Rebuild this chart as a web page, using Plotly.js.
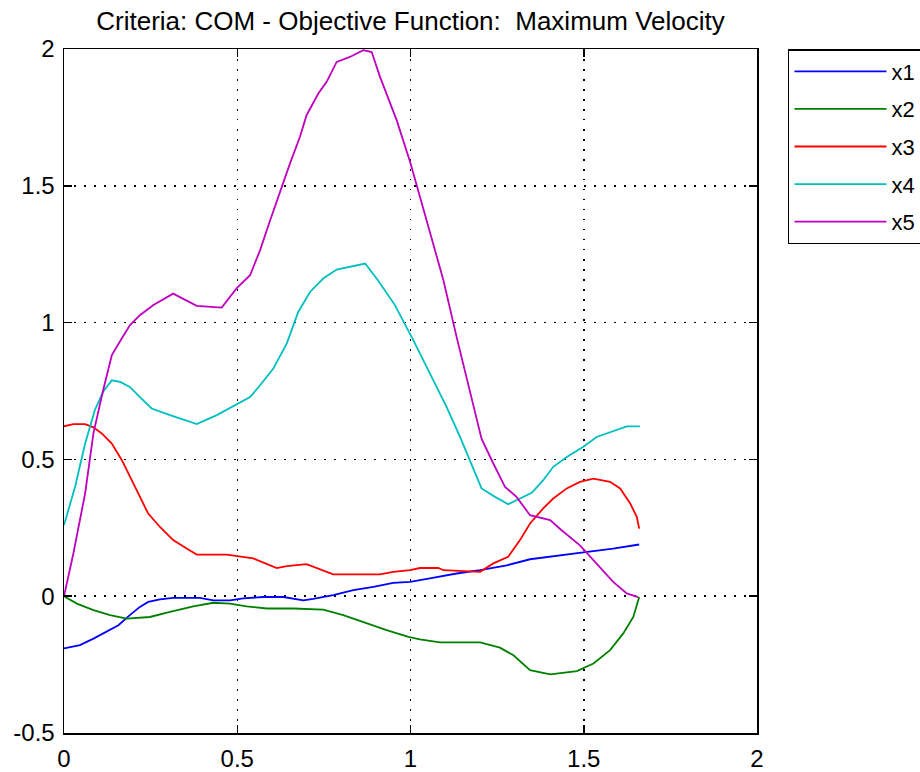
<!DOCTYPE html>
<html>
<head>
<meta charset="utf-8">
<script src="https://cdn.plot.ly/plotly-3.0.1.min.js"></script>
<style>
  html, body { margin: 0; padding: 0; background: #fff; }
  #chart { width: 920px; height: 772px; }
</style>
</head>
<body>
<div id="chart"></div>
<script>
// ---- data ----
const seriesNames = ["x1", "x2", "x3", "x4", "x5"];

const t1 = [0, 0.046, 0.085, 0.123, 0.157, 0.190, 0.219, 0.243, 0.277, 0.315, 0.392, 0.431, 0.479, 0.517, 0.575, 0.633, 0.691, 0.719, 0.777, 0.835, 0.893, 0.950, 0.999, 1.056, 1.133, 1.201, 1.278, 1.345, 1.412, 1.499, 1.585, 1.660];
const x1 = [-0.191, -0.179, -0.155, -0.130, -0.106, -0.069, -0.039, -0.021, -0.012, -0.006, -0.006, -0.015, -0.015, -0.008, -0.003, -0.003, -0.015, -0.010, 0.004, 0.022, 0.034, 0.049, 0.052, 0.065, 0.083, 0.095, 0.113, 0.135, 0.147, 0.160, 0.174, 0.189];

const t2 = [0, 0.037, 0.085, 0.133, 0.181, 0.248, 0.306, 0.373, 0.431, 0.479, 0.527, 0.585, 0.662, 0.748, 0.806, 0.874, 0.931, 0.994, 1.027, 1.085, 1.201, 1.258, 1.297, 1.345, 1.403, 1.480, 1.528, 1.576, 1.614, 1.643, 1.660];
const x2 = [0, -0.027, -0.051, -0.069, -0.082, -0.076, -0.057, -0.037, -0.024, -0.027, -0.037, -0.045, -0.045, -0.049, -0.069, -0.100, -0.124, -0.149, -0.158, -0.169, -0.169, -0.188, -0.216, -0.270, -0.286, -0.274, -0.246, -0.197, -0.136, -0.076, -0.003];

const t3 = [0, 0.027, 0.061, 0.085, 0.109, 0.138, 0.167, 0.195, 0.219, 0.243, 0.277, 0.315, 0.354, 0.383, 0.470, 0.508, 0.546, 0.614, 0.643, 0.700, 0.777, 0.912, 0.950, 0.999, 1.027, 1.080, 1.095, 1.201, 1.239, 1.282, 1.316, 1.345, 1.383, 1.412, 1.451, 1.489, 1.528, 1.576, 1.605, 1.634, 1.653, 1.660];
const x3 = [0.621, 0.629, 0.629, 0.617, 0.595, 0.558, 0.497, 0.424, 0.363, 0.302, 0.253, 0.205, 0.174, 0.152, 0.152, 0.144, 0.138, 0.103, 0.110, 0.117, 0.080, 0.080, 0.089, 0.095, 0.103, 0.103, 0.095, 0.089, 0.120, 0.144, 0.205, 0.266, 0.321, 0.357, 0.394, 0.418, 0.430, 0.418, 0.394, 0.339, 0.290, 0.247];

const t4 = [0, 0.032, 0.061, 0.089, 0.113, 0.138, 0.162, 0.190, 0.219, 0.253, 0.306, 0.383, 0.441, 0.494, 0.537, 0.566, 0.604, 0.643, 0.676, 0.710, 0.748, 0.787, 0.825, 0.869, 0.906, 0.955, 1.008, 1.056, 1.104, 1.143, 1.172, 1.205, 1.244, 1.282, 1.316, 1.350, 1.383, 1.412, 1.451, 1.499, 1.537, 1.585, 1.624, 1.662];
const x4 = [0.260, 0.400, 0.558, 0.680, 0.747, 0.789, 0.783, 0.765, 0.728, 0.686, 0.662, 0.629, 0.662, 0.698, 0.728, 0.771, 0.832, 0.924, 1.039, 1.112, 1.161, 1.194, 1.204, 1.216, 1.155, 1.064, 0.936, 0.814, 0.692, 0.582, 0.491, 0.394, 0.363, 0.336, 0.357, 0.378, 0.424, 0.473, 0.509, 0.546, 0.582, 0.604, 0.621, 0.621];

const t5 = [0, 0.027, 0.061, 0.085, 0.113, 0.138, 0.167, 0.190, 0.219, 0.258, 0.315, 0.383, 0.455, 0.498, 0.537, 0.566, 0.595, 0.628, 0.652, 0.681, 0.700, 0.734, 0.758, 0.787, 0.825, 0.864, 0.888, 0.912, 0.960, 0.999, 1.047, 1.095, 1.133, 1.172, 1.205, 1.239, 1.273, 1.306, 1.345, 1.403, 1.436, 1.489, 1.537, 1.585, 1.624, 1.657];
const x5 = [0, 0.156, 0.376, 0.596, 0.753, 0.881, 0.943, 0.990, 1.027, 1.064, 1.106, 1.061, 1.055, 1.125, 1.173, 1.265, 1.374, 1.496, 1.581, 1.679, 1.758, 1.837, 1.880, 1.953, 1.971, 1.996, 1.989, 1.898, 1.740, 1.587, 1.374, 1.155, 0.948, 0.741, 0.576, 0.485, 0.399, 0.363, 0.296, 0.278, 0.241, 0.186, 0.120, 0.052, 0.010, -0.003];

const xTicks = [0, 0.5, 1, 1.5, 2];
const xTickLabels = ["0", "0.5", "1", "1.5", "2"];
const yTicks = [-0.5, 0, 0.5, 1, 1.5, 2];
const yTickLabels = ["-0.5", "0", "0.5", "1", "1.5", "2"];
const titleText = "Criteria: COM - Objective Function:  Maximum Velocity";

// ---- styling ----
const colors = ["#0000ff", "#008000", "#ff0000", "#00bfbf", "#bf00bf"];
const ts = [t1, t2, t3, t4, t5];
const ys = [x1, x2, x3, x4, x5];
const FONT = "Liberation Sans, Arial, sans-serif";

const traces = seriesNames.map((n, i) => ({
  type: "scatter",
  mode: "lines",
  name: n,
  x: ts[i],
  y: ys[i],
  line: { color: colors[i], width: 1.8 },
  legendgroup: n
}));

const axisCommon = {
  showline: true,
  linecolor: "#000",
  linewidth: 1.5,
  mirror: "ticks",
  ticks: "inside",
  ticklen: 8,
  tickwidth: 1.5,
  tickcolor: "#000",
  showgrid: true,
  gridcolor: "#000",
  gridwidth: 1.5,
  griddash: "1.5px,8.5px",
  zeroline: false,
  tickfont: { family: FONT, size: 24, color: "#000" },
  tickmode: "array"
};

const layout = {
  width: 920,
  height: 772,
  paper_bgcolor: "#fff",
  plot_bgcolor: "#fff",
  margin: { l: 64, r: 163, t: 49, b: 39, autoexpand: false },
  title: {
    text: titleText,
    font: { family: FONT, size: 26, color: "#000" },
    x: 0.5, xref: "paper", xanchor: "center",
    y: 0.961, yref: "container", yanchor: "bottom"
  },
  xaxis: Object.assign({}, axisCommon, {
    range: [0, 2],
    tickvals: xTicks,
    ticktext: xTickLabels,
    ticklabelstandoff: 4
  }),
  yaxis: Object.assign({}, axisCommon, {
    range: [-0.5, 2],
    tickvals: yTicks,
    ticktext: yTickLabels,
    ticklabelstandoff: 3
  }),
  showlegend: true,
  legend: {
    x: 1.0447, xanchor: "left",
    y: 1, yanchor: "top",
    bordercolor: "#000",
    borderwidth: 1.5,
    bgcolor: "#fff",
    font: { family: FONT, size: 22, color: "#000" },
    traceorder: "grouped",
    tracegroupgap: 6,
    itemwidth: 92
  }
};

Plotly.newPlot("chart", traces, layout, { displayModeBar: false, staticPlot: true });
</script>
</body>
</html>
